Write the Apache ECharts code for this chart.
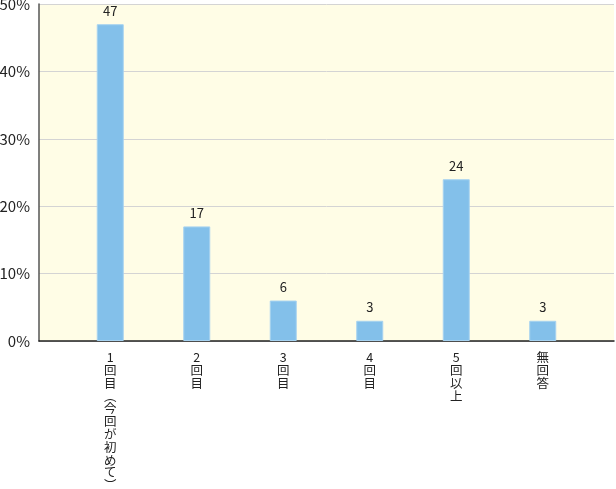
<!DOCTYPE html>
<html>
<head>
<meta charset="utf-8">
<script src="https://cdn.jsdelivr.net/npm/echarts@6/dist/echarts.min.js"></script>
<style>
html,body{margin:0;padding:0;background:#fff;}
#c{width:616px;height:489px;}
</style>
</head>
<body>
<div id="c"></div>
<script>
const categories = ['1回目︵今回が初めて︶', '2回目', '3回目', '4回目', '5回以上', '無回答'];
const values = [47, 17, 6, 3, 24, 3];
const yTicks = [0, 10, 20, 30, 40, 50];

const font = '"Noto Sans CJK JP", "Noto Sans", sans-serif';
const chart = echarts.init(document.getElementById('c'));
chart.setOption({
  animation: false,
  grid: [
    { left: 39, right: 2, top: 4, bottom: 148, show: true, backgroundColor: '#fffde6', borderWidth: 0, outerBoundsMode: 'none', containLabel: false },
    { left: 67, right: 30, top: 4, bottom: 148, outerBoundsMode: 'none', containLabel: false }
  ],
  xAxis: [
    { gridIndex: 0, type: 'value', min: 0, max: 1, axisLine: { show: true, lineStyle: { color: '#222', width: 1.5 } },
      axisTick: { show: false }, axisLabel: { show: false }, splitLine: { show: false } },
    { gridIndex: 1, type: 'category', data: categories,
      axisLine: { show: false }, axisTick: { show: false },
      axisLabel: { interval: 0, margin: 10, color: '#222', fontFamily: font, fontSize: 12.5, lineHeight: 12.8,
        verticalAlign: 'top',
        formatter: v => Array.from(v).join('\n') } }
  ],
  yAxis: [
    { gridIndex: 0, type: 'value', min: yTicks[0], max: yTicks[yTicks.length - 1], interval: 10,
      axisLine: { show: true, lineStyle: { color: '#555', width: 1.5 } }, axisTick: { show: false },
      axisLabel: { formatter: v => v + '%', color: '#222', fontSize: 15, fontFamily: font, margin: 9 },
      splitLine: { show: true, lineStyle: { color: '#d4d4d4', width: 1 } } },
    { gridIndex: 1, type: 'value', min: yTicks[0], max: yTicks[yTicks.length - 1], interval: 10, show: false, splitLine: { show: false } }
  ],
  series: [{
    type: 'bar', xAxisIndex: 1, yAxisIndex: 1, data: values, barWidth: 27,
    itemStyle: { color: '#83c0ea', borderColor: '#a6d2f0', borderWidth: 1 },
    label: { show: true, position: 'top', distance: 7, color: '#222', fontSize: 13, fontFamily: font }
  }]
});
</script>
</body>
</html>
